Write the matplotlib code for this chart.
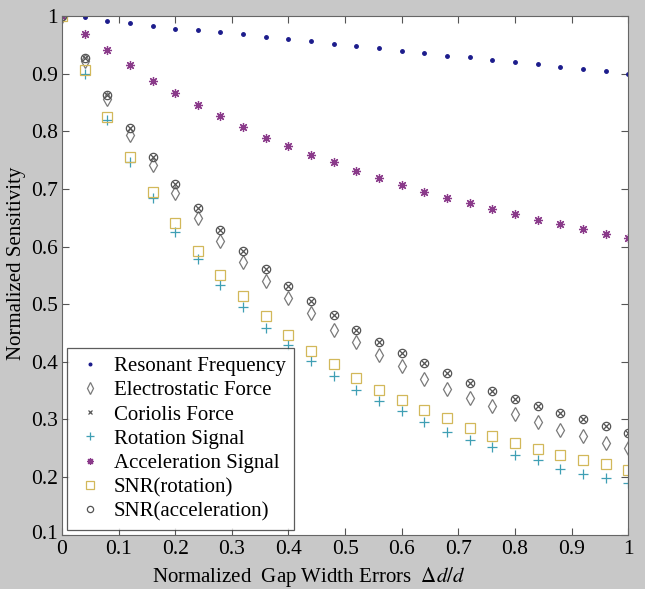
import matplotlib
matplotlib.use("Agg")
import matplotlib.pyplot as plt
import matplotlib.transforms as mtransforms
import numpy as np

plt.rcParams['font.family'] = ['Liberation Serif', 'DejaVu Serif']
plt.rcParams['mathtext.fontset'] = 'stix'

# gap width error, normalized
x = np.arange(26) * 0.04

resonant = [1.0, 0.998, 0.991, 0.987, 0.982, 0.978, 0.976, 0.972, 0.968, 0.963, 0.960, 0.956, 0.951,
            0.947, 0.944, 0.939, 0.936, 0.931, 0.928, 0.924, 0.920, 0.917, 0.912, 0.908, 0.904, 0.899]
electrostatic = [1.0, 0.921, 0.856, 0.794, 0.741, 0.693, 0.650, 0.609, 0.574, 0.540, 0.510, 0.485, 0.456,
                 0.434, 0.412, 0.392, 0.370, 0.353, 0.337, 0.323, 0.310, 0.295, 0.281, 0.271, 0.260, 0.251]
coriolis = [1.0, 0.927, 0.863, 0.805, 0.756, 0.708, 0.667, 0.628, 0.593, 0.561, 0.532, 0.506, 0.481,
            0.456, 0.434, 0.416, 0.398, 0.380, 0.363, 0.350, 0.336, 0.323, 0.311, 0.301, 0.288, 0.277]
rotation = [1.0, 0.899, 0.820, 0.747, 0.684, 0.626, 0.579, 0.534, 0.495, 0.459, 0.430, 0.401, 0.376,
            0.352, 0.332, 0.314, 0.296, 0.279, 0.265, 0.253, 0.239, 0.229, 0.214, 0.206, 0.198, 0.190]
acceleration = [1.0, 0.968, 0.940, 0.914, 0.887, 0.866, 0.845, 0.827, 0.808, 0.789, 0.774, 0.759, 0.746,
                0.731, 0.718, 0.706, 0.694, 0.685, 0.675, 0.665, 0.657, 0.646, 0.639, 0.630, 0.622, 0.615]
snr_rot = [1.0, 0.906, 0.825, 0.756, 0.694, 0.641, 0.593, 0.550, 0.514, 0.479, 0.447, 0.419, 0.396,
           0.372, 0.351, 0.333, 0.316, 0.302, 0.285, 0.271, 0.259, 0.249, 0.239, 0.229, 0.222, 0.212]
snr_acc = [1.0, 0.927, 0.863, 0.805, 0.756, 0.708, 0.667, 0.628, 0.593, 0.561, 0.532, 0.506, 0.481,
           0.456, 0.434, 0.416, 0.398, 0.380, 0.363, 0.350, 0.336, 0.323, 0.311, 0.301, 0.288, 0.277]

fig = plt.figure(figsize=(6.45, 5.89), dpi=100, facecolor='#c8c8c8')
ax = fig.add_axes([0.096, 0.092, 0.878, 0.881])

ax.plot(x, resonant, '.', color='#1c1c8c', ms=5, label='Resonant Frequency')
ax.plot(x, electrostatic, 'd', mfc='none', mec='#7a7a7a', ms=7.5, mew=0.9, label='Electrostatic Force')
ax.plot(x, coriolis, 'x', color='#555555', ms=4.5, mew=0.9, label='Coriolis Force')
ax.plot(x, rotation, '+', color='#3f9fb4', ms=7, mew=0.9, label='Rotation Signal')
ax.plot(x, acceleration, marker=(8, 2, 0), ls='none', color='#8a3a8a', ms=6.5, mew=0.9, label='Acceleration Signal')
ax.plot(x, snr_rot, 's', mfc='none', mec='#d2b85a', ms=7, mew=0.9, label='SNR(rotation)')
ax.plot(x, snr_acc, 'o', mfc='none', mec='#555555', ms=6, mew=0.9, label='SNR(acceleration)')

ax.set_xlim(0, 1)
ax.set_ylim(0.1, 1)
ax.set_xticks(np.arange(0, 1.01, 0.1))
ax.set_xticklabels(['0', '0.1', '0.2', '0.3', '0.4', '0.5', '0.6', '0.7', '0.8', '0.9', '1'])
ax.set_yticks(np.arange(0.1, 1.01, 0.1))
ax.set_yticklabels(['0.1', '0.2', '0.3', '0.4', '0.5', '0.6', '0.7', '0.8', '0.9', '1'])
ax.tick_params(direction='in', top=True, right=True, length=5, labelsize=15.5, color='#555555')
ax.tick_params(axis='x', pad=4)
ax.tick_params(axis='y', pad=3)
for s in ax.spines.values():
    s.set_color('#666666')

# lift the bottom y label a little, like the original
lab = ax.get_yticklabels()[0]
lab.set_transform(lab.get_transform() + mtransforms.ScaledTranslation(0, 3 / 100, fig.dpi_scale_trans))

ax.set_xlabel('Normalized  Gap Width Errors  $\\Delta d/d$', fontsize=15)
ax.set_ylabel('Normalized Sensitivity', fontsize=15)
ax.xaxis.set_label_coords(0.436, -0.058)
ax.yaxis.set_label_coords(-0.064, 0.524)

leg = ax.legend(loc='lower left', bbox_to_anchor=(0.009, 0.01), borderaxespad=0, fontsize=15, frameon=True,
                fancybox=False, handlelength=1.4, handletextpad=0.45, labelspacing=0.22, borderpad=0.4,
                markerscale=0.75)
leg.get_frame().set_edgecolor('#333333')
leg.get_frame().set_linewidth(0.9)

fig.savefig('out.png', dpi=100, facecolor=fig.get_facecolor())
